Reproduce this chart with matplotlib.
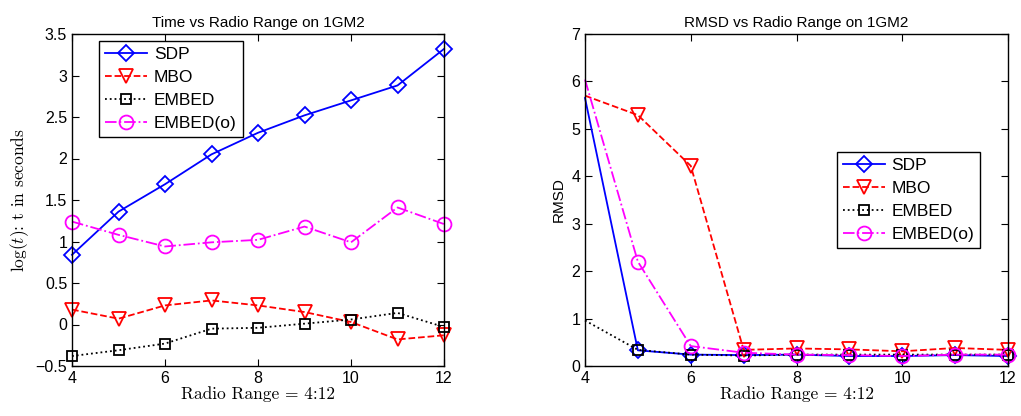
import numpy as np
import matplotlib.pyplot as plt

plt.rcParams['font.family'] = ['Liberation Sans', 'DejaVu Sans']
plt.rcParams['mathtext.fontset'] = 'cm'

radio = [4, 5, 6, 7, 8, 9, 10, 11, 12]

# log(t) timings
time_sdp = [0.84, 1.36, 1.69, 2.05, 2.31, 2.52, 2.70, 2.88, 3.32]
time_mbo = [0.18, 0.07, 0.23, 0.29, 0.23, 0.15, 0.03, -0.18, -0.13]
time_embed = [-0.38, -0.31, -0.23, -0.05, -0.04, 0.01, 0.06, 0.14, -0.03]
time_embedo = [1.24, 1.08, 0.94, 0.99, 1.02, 1.18, 0.99, 1.41, 1.21]

# RMSD
rmsd_sdp = [5.65, 0.33, 0.24, 0.23, 0.24, 0.21, 0.21, 0.23, 0.21]
rmsd_mbo = [5.70, 5.29, 4.22, 0.34, 0.37, 0.35, 0.31, 0.38, 0.34]
rmsd_embed = [0.96, 0.34, 0.24, 0.22, 0.24, 0.24, 0.24, 0.24, 0.24]
rmsd_embedo = [6.04, 2.20, 0.42, 0.28, 0.24, 0.23, 0.21, 0.24, 0.24]

labels = ['SDP', 'MBO', 'EMBED', 'EMBED(o)']
styles = [dict(color='#0000ff', ls='-', marker='D'),
          dict(color='#ff0000', ls='--', marker='v'),
          dict(color='black', ls=':', marker='s'),
          dict(color='#ff00ff', ls='-.', marker='o')]
msizes = [8, 10, 7, 10]

fig = plt.figure(figsize=(10.21, 4.16), dpi=100)
ax1 = fig.add_axes([72/1021, 1-366/416, 372/1021, 332/416])
ax2 = fig.add_axes([585/1021, 1-366/416, 423/1021, 332/416])

xlabel = 'Radio Range = 4:12'

for ys, lab, st, ms in zip([time_sdp, time_mbo, time_embed, time_embedo], labels, styles, msizes):
    ax1.plot(radio, ys, label=lab, lw=1.3, markersize=ms, mfc='none', mew=1.3,
             clip_on=False, **st)
ax1.set_xlim(4, 12)
ax1.set_ylim(-0.5, 3.5)
ax1.set_xticks([4, 6, 8, 10, 12])
ax1.set_yticks(np.arange(-0.5, 3.51, 0.5))
ax1.set_yticklabels(['\u22120.5', '0', '0.5', '1', '1.5', '2', '2.5', '3', '3.5'])
ax1.set_title('Time vs Radio Range on 1GM2', fontsize=11, pad=5)
ax1.set_xlabel(xlabel, fontsize=12.5, labelpad=0, family='cmr10')
ax1.set_ylabel(r'$\log(t)$: t in seconds', fontsize=12.5, labelpad=3, family='cmr10')
leg1 = ax1.legend(loc='upper left', fontsize=12.5, fancybox=False, edgecolor='black',
                  framealpha=1, handlelength=2.4, borderpad=0.35, labelspacing=0.45,
                  handletextpad=0.4, bbox_to_anchor=(0.05, 1.005))
leg1.get_frame().set_linewidth(1.0)

for ys, lab, st, ms in zip([rmsd_sdp, rmsd_mbo, rmsd_embed, rmsd_embedo], labels, styles, msizes):
    ax2.plot(radio, ys, label=lab, lw=1.3, markersize=ms, mfc='none', mew=1.3,
             markevery=slice(1, None), clip_on=False, **st)
ax2.set_xlim(4, 12)
ax2.set_ylim(0, 7)
ax2.set_xticks([4, 6, 8, 10, 12])
ax2.set_yticks(range(0, 8))
ax2.set_title('RMSD vs Radio Range on 1GM2', fontsize=11, pad=5)
ax2.set_xlabel(xlabel, fontsize=12.5, labelpad=0, family='cmr10')
ax2.set_ylabel('RMSD', fontsize=11, labelpad=4)
leg2 = ax2.legend(loc='upper left', fontsize=12.5, fancybox=False, edgecolor='black',
                  framealpha=1, handlelength=2.4, borderpad=0.35, labelspacing=0.45,
                  handletextpad=0.4, bbox_to_anchor=(0.575, 0.672))
leg2.get_frame().set_linewidth(1.0)

for ax in (ax1, ax2):
    ax.tick_params(direction='in', top=True, right=True, labelsize=11.5, length=5)
    for s in ax.spines.values():
        s.set_linewidth(1.0)

fig.savefig('out.png', dpi=100)
